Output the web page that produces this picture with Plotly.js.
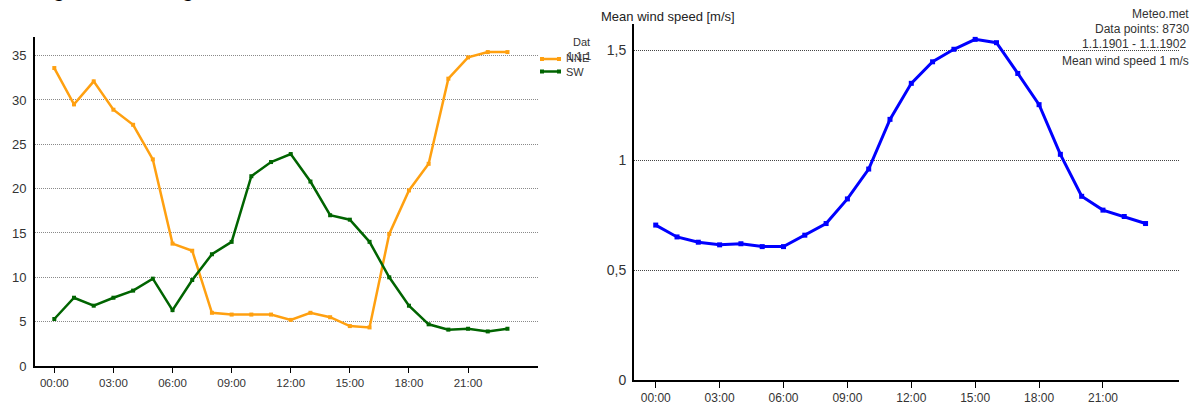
<!DOCTYPE html>
<html>
<head>
<meta charset="utf-8">
<script src="https://cdn.plot.ly/plotly-3.0.1.min.js"></script>
<style>
html,body{margin:0;padding:0;background:#fff;}
#chart{width:1199px;height:408px;}
</style>
</head>
<body>
<div id="chart"></div>
<script>
// ---- data ----
const hours = [0,1,2,3,4,5,6,7,8,9,10,11,12,13,14,15,16,17,18,19,20,21,22,23];
const tickHours = [0,3,6,9,12,15,18,21];
const tickLabels = ["00:00","03:00","06:00","09:00","12:00","15:00","18:00","21:00"];
const nneValues = [33.6,29.5,32.1,28.9,27.2,23.3,13.8,13.0,6.0,5.8,5.8,5.8,5.2,6.0,5.5,4.5,4.35,14.9,19.8,22.8,32.4,34.8,35.4,35.4];
const swValues = [5.3,7.7,6.8,7.7,8.5,9.85,6.3,9.7,12.6,14.0,21.4,23.0,23.9,20.8,17.0,16.5,14.0,10.0,6.8,4.7,4.1,4.2,3.9,4.2];
const meanSpeed = [0.705,0.651,0.627,0.615,0.620,0.607,0.607,0.659,0.712,0.824,0.960,1.186,1.350,1.448,1.505,1.550,1.535,1.395,1.253,1.027,0.836,0.773,0.744,0.712];
const leftYTicks = [0,5,10,15,20,25,30,35];
const rightYTicks = [0,0.5,1,1.5];
const rightYLabels = ["0","0,5","1","1,5"];
const seriesNames = ["NNE","SW"];
const rightTitle = "Mean wind speed [m/s]";
const infoLines = ["Meteo.met","Data points: 8730","1.1.1901 - 1.1.1902","Mean wind speed 1 m/s"];

// ---- layout helpers ----
const W = 1199, H = 408;
const px = v => v / W;
const py = v => 1 - v / H;
const ORANGE = "#FFA010", GREEN = "#006400", BLUE = "#0000FF";
const FONT = "Liberation Sans, Arial, sans-serif";

const traces = [
  {x: hours, y: nneValues, name: seriesNames[0], type: "scatter", mode: "lines+markers",
   line: {color: ORANGE, width: 2.5}, marker: {symbol: "square", size: 4, color: ORANGE},
   xaxis: "x", yaxis: "y", showlegend: false},
  {x: hours, y: swValues, name: seriesNames[1], type: "scatter", mode: "lines+markers",
   line: {color: GREEN, width: 2.5}, marker: {symbol: "square", size: 4, color: GREEN},
   xaxis: "x", yaxis: "y", showlegend: false},
  {x: hours, y: meanSpeed, name: "Mean wind speed", type: "scatter", mode: "lines+markers",
   line: {color: BLUE, width: 3}, marker: {symbol: "square", size: 5, color: BLUE},
   xaxis: "x2", yaxis: "y2", showlegend: false}
];

const axisCommon = {
  showline: true, linecolor: "#000", linewidth: 2, zeroline: false,
  fixedrange: true
};

const layout = {
  width: W, height: H,
  margin: {l: 0, r: 0, t: 0, b: 0},
  paper_bgcolor: "#fff", plot_bgcolor: "#fff",
  font: {family: FONT, color: "#333"},
  showlegend: false,
  xaxis: Object.assign({}, axisCommon, {
    domain: [px(35), px(538)], range: [-0.98, 24.55], anchor: "y",
    tickmode: "array", tickvals: tickHours, ticktext: tickLabels,
    ticks: "outside", ticklen: 5, tickwidth: 1, tickcolor: "#000",
    showgrid: false, tickfont: {size: 11.5, color: "#333"}
  }),
  yaxis: Object.assign({}, axisCommon, {
    domain: [py(366), py(37)], range: [0, 37.1], anchor: "x",
    tickmode: "array", tickvals: leftYTicks, ticks: "",
    showgrid: true, gridcolor: "#8a8a8a", griddash: "1px,1px", gridwidth: 1,
    tickfont: {size: 13, color: "#333"}, ticklabelstandoff: 4
  }),
  xaxis2: Object.assign({}, axisCommon, {
    domain: [px(634), px(1179)], range: [-1.02, 24.57], anchor: "y2",
    tickmode: "array", tickvals: tickHours, ticktext: tickLabels,
    ticks: "outside", ticklen: 6, tickwidth: 1, tickcolor: "#000",
    showgrid: false, tickfont: {size: 12, color: "#333"}
  }),
  yaxis2: Object.assign({}, axisCommon, {
    domain: [py(380), py(24)], range: [0, 1.62], anchor: "x2",
    tickmode: "array", tickvals: rightYTicks, ticktext: rightYLabels, ticks: "",
    showgrid: true, gridcolor: "#444", griddash: "1px,1px", gridwidth: 1,
    tickfont: {size: 14, color: "#333"}, ticklabelstandoff: 3
  }),
  shapes: [
    {type: "line", xref: "paper", yref: "paper", x0: px(541), x1: px(560), y0: py(59), y1: py(59),
     line: {color: ORANGE, width: 2.5}},
    {type: "rect", xref: "paper", yref: "paper", x0: px(540), x1: px(544), y0: py(61), y1: py(57),
     fillcolor: ORANGE, line: {width: 0}},
    {type: "rect", xref: "paper", yref: "paper", x0: px(557), x1: px(561), y0: py(61), y1: py(57),
     fillcolor: ORANGE, line: {width: 0}},
    {type: "line", xref: "paper", yref: "paper", x0: px(541), x1: px(560), y0: py(71.5), y1: py(71.5),
     line: {color: GREEN, width: 2.5}},
    {type: "rect", xref: "paper", yref: "paper", x0: px(540), x1: px(544), y0: py(73.5), y1: py(69.5),
     fillcolor: GREEN, line: {width: 0}},
    {type: "rect", xref: "paper", yref: "paper", x0: px(557), x1: px(561), y0: py(73.5), y1: py(69.5),
     fillcolor: GREEN, line: {width: 0}}
  ],
  annotations: [
    {text: "<b>Diagram of strong winds</b>", xref: "paper", yref: "paper", x: px(20), y: py(-10),
     xanchor: "left", yanchor: "middle", showarrow: false, font: {size: 20, color: "#000", family: FONT}},
    {text: seriesNames[0], xref: "paper", yref: "paper", x: px(564), y: py(58), xanchor: "left", yanchor: "middle",
     showarrow: false, font: {size: 11, color: "#333"}},
    {text: seriesNames[1], xref: "paper", yref: "paper", x: px(564), y: py(72), xanchor: "left", yanchor: "middle",
     showarrow: false, font: {size: 11, color: "#333"}},
    {text: "Dat", xref: "paper", yref: "paper", x: px(571), y: py(42), xanchor: "left", yanchor: "middle",
     showarrow: false, font: {size: 11, color: "#333"}},
    {text: "1.1.1", xref: "paper", yref: "paper", x: px(565), y: py(56), xanchor: "left", yanchor: "middle",
     showarrow: false, font: {size: 11, color: "#333"}},
    {text: rightTitle, xref: "paper", yref: "paper", x: px(599), y: py(17), xanchor: "left", yanchor: "middle",
     showarrow: false, font: {size: 13, color: "#222"}},
    {text: infoLines[0], xref: "paper", yref: "paper", x: px(1191), y: py(14), xanchor: "right", yanchor: "middle",
     showarrow: false, font: {size: 12, color: "#333"}},
    {text: infoLines[1], xref: "paper", yref: "paper", x: px(1191), y: py(29), xanchor: "right", yanchor: "middle",
     showarrow: false, font: {size: 12, color: "#333"}},
    {text: infoLines[2], xref: "paper", yref: "paper", x: px(1188), y: py(44), xanchor: "right", yanchor: "middle",
     showarrow: false, font: {size: 12, color: "#333"}},
    {text: infoLines[3], xref: "paper", yref: "paper", x: px(1191), y: py(61), xanchor: "right", yanchor: "middle",
     showarrow: false, font: {size: 12, color: "#333"}}
  ]
};

Plotly.newPlot("chart", traces, layout, {displayModeBar: false, staticPlot: true});
</script>
</body>
</html>
